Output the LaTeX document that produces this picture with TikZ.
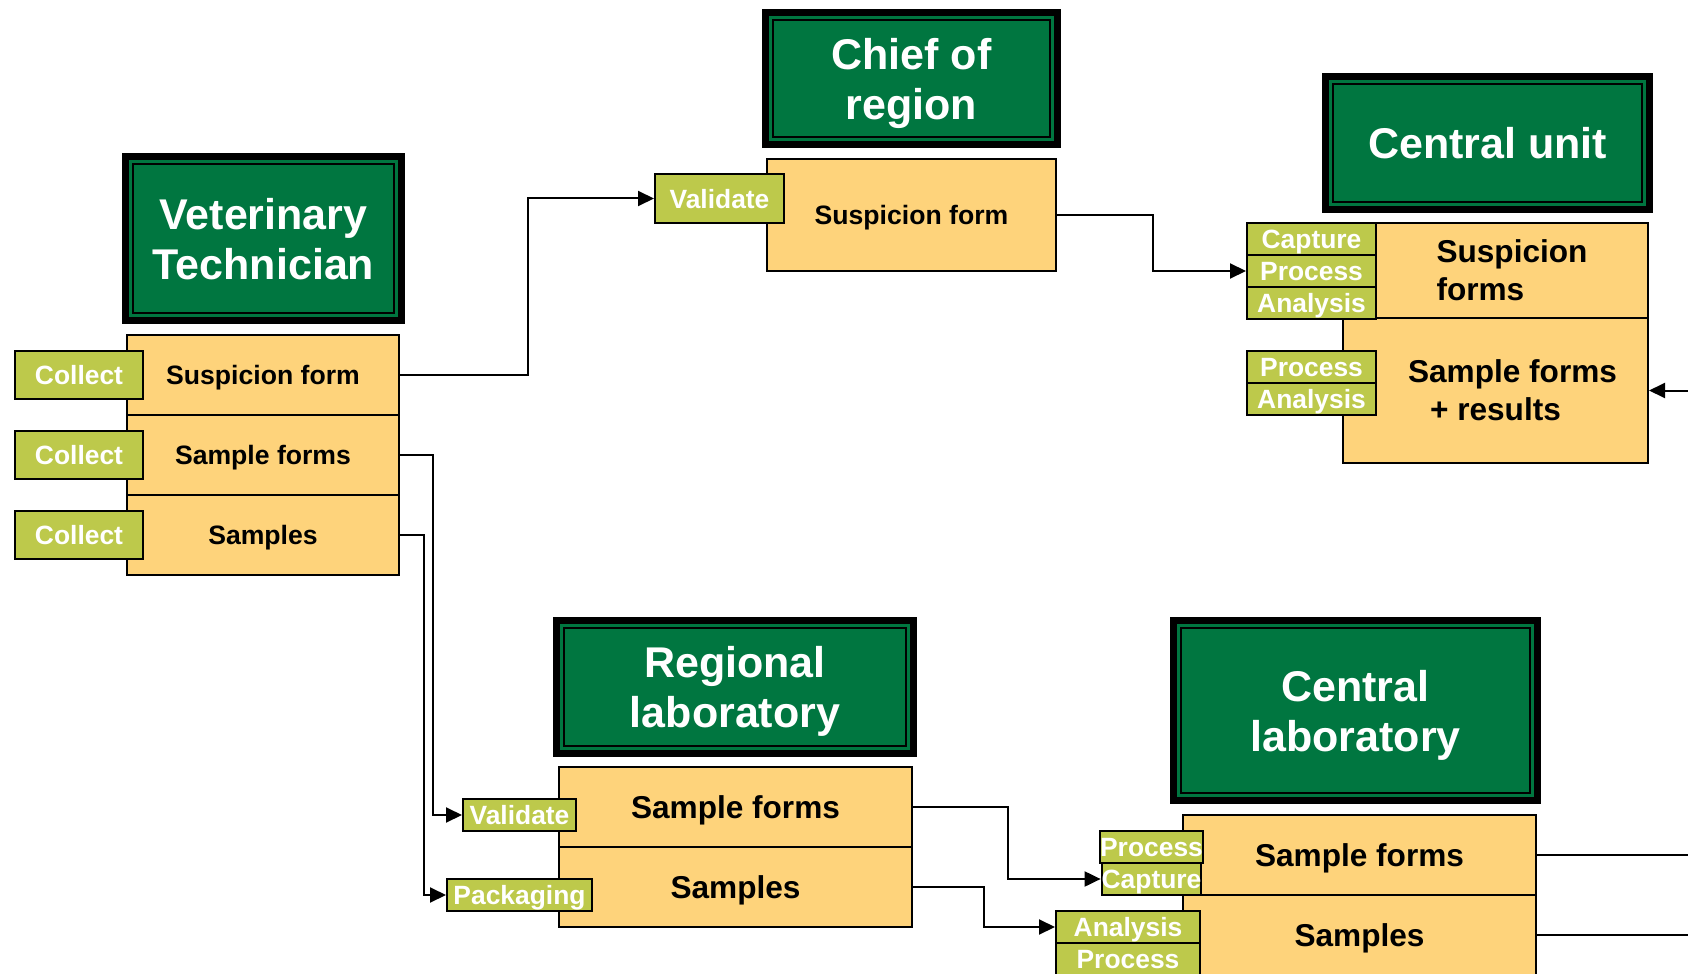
\documentclass[tikz,border=0pt]{standalone}
\usepackage{fontspec}
\setmainfont{Liberation Sans}
\usetikzlibrary{arrows.meta}

\definecolor{hdrgreen}{HTML}{007640}
\definecolor{rowyellow}{HTML}{FED37B}
\definecolor{tagolive}{HTML}{BDC94B}

\tikzset{
  header/.style={fill=black, text=white, inner sep=0pt, align=center, text depth=0pt,
    font=\bfseries\fontsize{21.5pt}{25pt}\selectfont,
    path picture={
      \fill[hdrgreen] ([shift={(7,-7)}]path picture bounding box.north west) rectangle ([shift={(-7,7)}]path picture bounding box.south east);
      \draw[black, line width=1pt] ([shift={(11,-11)}]path picture bounding box.north west) rectangle ([shift={(-11,11)}]path picture bounding box.south east);
    }},
  form/.style={draw=black, line width=1pt, fill=rowyellow, inner sep=0pt, align=center, text depth=0pt,
    font=\bfseries\fontsize{13.3pt}{16pt}\selectfont},
  bigform/.style={form, font=\bfseries\fontsize{15.8pt}{19pt}\selectfont},
  tag/.style={draw=black, line width=1pt, fill=tagolive, text=white, inner sep=0pt, text depth=0pt,
    font=\bfseries\fontsize{13.2pt}{15pt}\selectfont},
  link/.style={draw=black, line width=1pt},
  flow/.style={link, -{Triangle[length=8pt,width=7.5pt]}}
}

\begin{document}
\begin{tikzpicture}[x=0.5pt,y=0.5pt]
  \useasboundingbox (0,0) rectangle (1688,-974);

  % veterinary technician
  \node[header, minimum width=141.5pt, minimum height=85.5pt] (vhead) at (263.5,-238.5) {Veterinary\\Technician};
  \node[form, minimum width=136pt, minimum height=40pt] (vsf) at (263,-375) {Suspicion form};
  \node[form, minimum width=136pt, minimum height=40pt] (vsm) at (263,-455) {Sample forms};
  \node[form, minimum width=136pt, minimum height=40pt] (vsa) at (263,-535) {Samples};
  \node[tag, minimum width=64pt, minimum height=24pt] (vc1) at (79,-375) {Collect};
  \node[tag, minimum width=64pt, minimum height=24pt] (vc2) at (79,-455) {Collect};
  \node[tag, minimum width=64pt, minimum height=24pt] (vc3) at (79,-535) {Collect};

  % chief of region
  \node[header, minimum width=149.5pt, minimum height=69.5pt] (chead) at (911.5,-78.5) {Chief of\\region};
  \node[form, minimum width=144.5pt, minimum height=56pt] (csf) at (911.5,-215) {Suspicion form};
  \node[tag, minimum width=64.5pt, minimum height=24.5pt] (cval) at (719.5,-198.5) {Validate};

  % central unit
  \node[header, minimum width=165.5pt, minimum height=70pt] (uhead) at (1487.5,-143) {Central unit};
  \node[bigform, minimum width=136pt, minimum height=47.5pt, align=left] (usf) at (1512,-270.5) {Suspicion\\forms};
  \node[bigform, minimum width=152.5pt, minimum height=72.5pt] (usr) at (1495.5,-390.5) {\hspace*{17pt}Sample forms\\+ results};
  \node[tag, minimum width=64.5pt, minimum height=16pt] (ucap) at (1311.5,-239) {Capture};
  \node[tag, minimum width=64.5pt, minimum height=16pt] (upro1) at (1311.5,-271) {Process};
  \node[tag, minimum width=64.5pt, minimum height=16pt] (uana1) at (1311.5,-303) {Analysis};
  \node[tag, minimum width=64.5pt, minimum height=16pt] (upro2) at (1311.5,-367) {Process};
  \node[tag, minimum width=64.5pt, minimum height=16pt] (uana2) at (1311.5,-399) {Analysis};

  % regional laboratory
  \node[header, minimum width=182pt, minimum height=70pt] (rhead) at (735,-687) {Regional\\laboratory};
  \node[bigform, minimum width=176.5pt, minimum height=40pt] (rsf) at (735.5,-807) {Sample forms};
  \node[bigform, minimum width=176.5pt, minimum height=40pt] (rsa) at (735.5,-887) {Samples};
  \node[tag, minimum width=56.5pt, minimum height=16pt] (rval) at (519.5,-815) {Validate};
  \node[tag, minimum width=72.5pt, minimum height=16pt] (rpack) at (519.5,-895) {Packaging};

  % central laboratory
  \node[header, minimum width=185.5pt, minimum height=93.5pt] (lhead) at (1355.5,-710.5) {Central\\laboratory};
  \node[bigform, minimum width=176.5pt, minimum height=40pt] (lsf) at (1359.5,-855) {Sample forms};
  \node[bigform, minimum width=176.5pt, minimum height=40pt] (lsa) at (1359.5,-935) {Samples};
  \node[tag, minimum width=48.5pt, minimum height=16pt] (lpro1) at (1151.5,-847) {Process};
  \node[tag, minimum width=48.5pt, minimum height=16pt] (lcap) at (1151.5,-879) {Capture};
  \node[tag, minimum width=72pt, minimum height=16pt] (lana) at (1128,-927) {Analysis};
  \node[tag, minimum width=72pt, minimum height=16pt] (lpro2) at (1128,-959) {Process};

  % free ends at the right edge
  \coordinate (uin) at (1688,-390.5);
  \coordinate (lout1) at (1688,-855);
  \coordinate (lout2) at (1688,-935);

  % connectors
  \draw[flow] (vsf.east) -- ++(128,0) |- (cval.west);
  \draw[flow] (vsm.east) -- ++(32.7,0) |- (rval.west);
  \draw[flow] (vsa.east) -- ++(24,0) |- (rpack.west);
  \draw[flow] (csf.east) -- ++(96,0) |- (upro1.west);
  \draw[flow] (rsf.east) -- ++(95,0) |- (lcap.west);
  \draw[flow] (rsa.east) -- ++(71,0) |- (lana.west);
  \draw[flow] (uin) -- (usr.east);
  \draw[link] (lsf.east) -- (lout1);
  \draw[link] (lsa.east) -- (lout2);
\end{tikzpicture}
\end{document}
